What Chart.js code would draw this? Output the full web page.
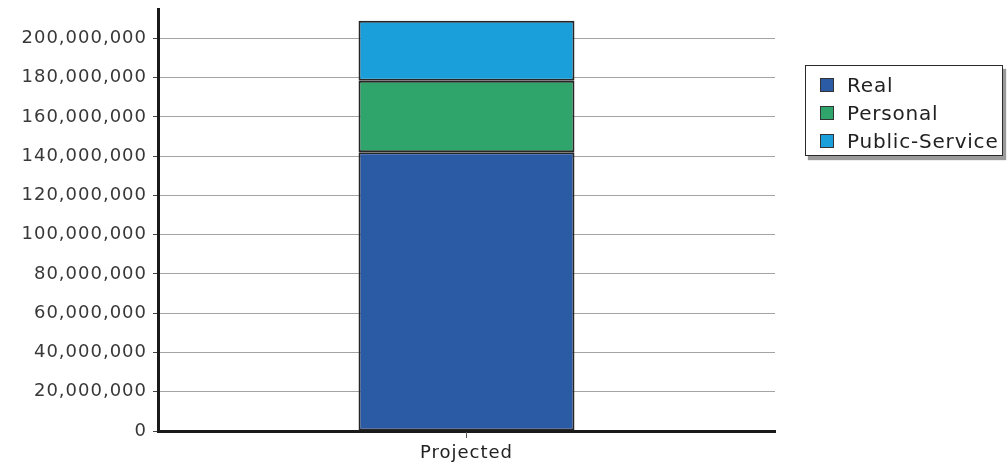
<!DOCTYPE html>
<html>
<head>
<meta charset="utf-8">
<script src="https://cdn.jsdelivr.net/npm/chart.js@4.4.1/dist/chart.umd.min.js"></script>
<style>
    html, body { margin: 0; padding: 0; background: #fff; }
    #wrap { position: relative; width: 1008px; height: 472px; }
    #legend {
        position: absolute; left: 805px; top: 65px; width: 198px;
        border: 1.5px solid #2a2a2a; background: #fff;
        box-shadow: 3px 4px 1px #9a9a9a;
        padding: 5px 0 0 14px; box-sizing: border-box;
        font-family: "DejaVu Sans", sans-serif; font-size: 20px; letter-spacing: 0.8px; color: #222;
    }
    .item { display: flex; align-items: center; height: 28px; }
    .swatch { width: 12px; height: 12px; border: 1.5px solid #333; margin-right: 13px; flex: none; }
</style>
</head>
<body>
<div id="wrap">
    <canvas id="chart" width="1008" height="472"></canvas>
    <div id="legend"></div>
</div>
<script>
const categories = ['Projected'];
const seriesNames = ['Real', 'Personal', 'Public-Service'];
const realValues = [142000000];
const personalValues = [36500000];
const publicServiceValues = [30500000];
const yTickValues = [0, 20000000, 40000000, 60000000, 80000000, 100000000,
    120000000, 140000000, 160000000, 180000000, 200000000];
const colors = ['#2c5ba6', '#2fa56b', '#1b9fda'];

document.addEventListener('DOMContentLoaded', () => {
    const seriesValues = [realValues, personalValues, publicServiceValues];
    const datasets = seriesNames.map((name, i) => ({
        label: name,
        data: seriesValues[i],
        backgroundColor: colors[i],
        borderColor: '#262626',
        borderWidth: 2,
        borderSkipped: false,
        barPercentage: 0.7,
        categoryPercentage: 0.5
    }));

    const ctx = document.getElementById('chart').getContext('2d');
    ctx.letterSpacing = '1px';
    const chart = new Chart(ctx, {
        type: 'bar',
        data: { labels: categories, datasets: datasets },
        options: {
            responsive: false,
            animation: false,
            layout: { padding: { top: 9, right: 233, left: 0, bottom: 0 } },
            plugins: { legend: { display: false }, tooltip: { enabled: false } },
            scales: {
                x: {
                    stacked: true,
                    grid: { display: false, drawTicks: false },
                    border: { color: '#1a1a1a', width: 3 },
                    ticks: { color: '#222', font: { family: 'DejaVu Sans', size: 18 }, padding: 12 },
                    afterFit: (scale) => { scale.height = 41; }
                },
                y: {
                    stacked: true,
                    min: 0,
                    max: 215000000,
                    afterBuildTicks: (scale) => {
                        scale.ticks = yTickValues.map(v => ({ value: v }));
                    },
                    ticks: {
                        autoSkip: false,
                        color: '#383838',
                        padding: 6,
                        font: { family: 'DejaVu Sans', size: 18 },
                        callback: (v) => Number(v).toLocaleString('en-US')
                    },
                    grid: { color: '#a4a4a4', tickColor: '#444', lineWidth: 1, tickLength: 5 },
                    border: { color: '#1a1a1a', width: 3 },
                    afterFit: (scale) => {
                        scale.width = 158;
                        scale.paddingTop = 0;
                        scale.paddingBottom = 0;
                    }
                }
            }
        },
        plugins: [{
            id: 'spacing',
            beforeDraw: (c) => { c.ctx.letterSpacing = '1px'; }
        }, {
            id: 'xTick',
            afterDraw: (c) => {
                const x = c.scales.x.getPixelForValue(0);
                const y = c.chartArea.bottom;
                c.ctx.save();
                c.ctx.strokeStyle = '#555';
                c.ctx.lineWidth = 1;
                c.ctx.beginPath();
                c.ctx.moveTo(x, y + 1);
                c.ctx.lineTo(x, y + 7);
                c.ctx.stroke();
                c.ctx.restore();
            }
        }]
    });

    const legend = document.getElementById('legend');
    chart.data.datasets.forEach(ds => {
        const item = document.createElement('div');
        item.className = 'item';
        item.innerHTML = `<span class="swatch" style="background:${ds.backgroundColor}"></span><span>${ds.label}</span>`;
        legend.appendChild(item);
    });
});
</script>
</body>
</html>
